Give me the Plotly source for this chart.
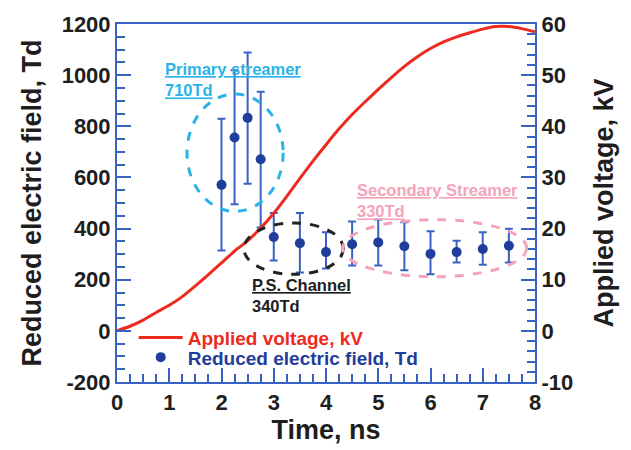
import plotly.graph_objects as go

# ---- data ----
time_ns = [0, 0.25, 0.5, 0.75, 1.0, 1.25, 1.5, 1.75, 2.0, 2.25, 2.5, 2.75, 3.0, 3.25,
           3.5, 3.75, 4.0, 4.25, 4.5, 4.75, 5.0, 5.25, 5.5, 5.75, 6.0, 6.25, 6.5,
           6.75, 7.0, 7.25, 7.5, 7.75, 8.0]
voltage_kv = [0, 0.9, 2.1, 3.6, 5.0, 6.7, 8.8, 11.0, 13.3, 15.6, 17.6, 20.1, 23.0, 26.3,
              29.8, 33.2, 36.4, 39.5, 42.3, 44.8, 47.2, 49.5, 51.7, 53.6, 55.2, 56.5, 57.5,
              58.3, 59.0, 59.5, 59.5, 59.1, 58.5]

field_t = [2.0, 2.25, 2.5, 2.75, 3.0, 3.5, 4.0, 4.5, 5.0, 5.5, 6.0, 6.5, 7.0, 7.5]
field_td = [571, 756, 833, 671, 367, 343, 308, 339, 346, 331, 301, 308, 320, 333]
err_plus = [258, 263, 256, 264, 94, 118, 78, 89, 89, 94, 89, 44, 66, 66]
err_minus = [257, 261, 258, 267, 92, 115, 64, 83, 90, 94, 80, 41, 61, 66]

x_ticks = [0, 1, 2, 3, 4, 5, 6, 7, 8]
y_left_ticks = [-200, 0, 200, 400, 600, 800, 1000, 1200]
y_left_labels = ["-200", "0", "200", "400", "600", "800", "1000", "1200"]
y_right_ticks = [-10, 0, 10, 20, 30, 40, 50, 60]
y_right_labels = ["-10", "0", "10", "20", "30", "40", "50", "60"]

# ---- style ----
FONT = "Liberation Sans, Arial, sans-serif"
AXBLUE = "#3a62c4"
PTBLUE = "#1f3d9a"
RED = "#ee2a1f"
CYAN = "#2bb3e6"
PINK = "#f4a3b8"
TXT = "#1e1e1e"

fig = go.Figure()

fig.add_trace(go.Scatter(
    x=time_ns, y=voltage_kv, yaxis="y2", mode="lines",
    line=dict(color=RED, width=3, shape="spline", smoothing=0.6),
    name="Applied voltage, kV", legend="legend",
))

fig.add_trace(go.Scatter(
    x=field_t, y=field_td, mode="markers",
    marker=dict(color=PTBLUE, size=10),
    error_y=dict(type="data", symmetric=False, array=err_plus, arrayminus=err_minus,
                 color=AXBLUE, thickness=2, width=4),
    name="Reduced electric field, Td", legend="legend2",
))

# ellipses
fig.add_shape(type="circle", xref="x", yref="y", x0=1.34, x1=3.18, y0=467, y1=926,
              line=dict(color=CYAN, width=3, dash="dash"))
fig.add_shape(type="circle", xref="x", yref="y", x0=2.43, x1=4.33, y0=221, y1=422,
              line=dict(color="#222222", width=3, dash="dash"))
fig.add_shape(type="circle", xref="x", yref="y", x0=4.32, x1=7.84, y0=212, y1=435,
              line=dict(color=PINK, width=3, dash="dash"))

def note(text, x, y, color):
    fig.add_annotation(text=text, x=x, y=y, xref="x", yref="y", xanchor="left",
                       yanchor="middle", align="left", showarrow=False,
                       font=dict(family=FONT, size=16.5, color=color, weight="bold"))

note("<u>Primary streamer</u><br><u>710Td</u>", 0.88, 982, CYAN)
note("<u>P.S. Channel</u><br>340Td", 2.55, 140, TXT)
note("<u>Secondary Streamer</u><br><u>330Td</u>", 4.55, 508, PINK)

tickfont = dict(family=FONT, size=22, color=TXT, weight="bold")
titlefont = dict(family=FONT, size=27, color=TXT, weight="bold")

common = dict(showgrid=False, zeroline=False, showline=True, linecolor=AXBLUE, linewidth=2,
              ticks="inside", tickcolor=AXBLUE, tickwidth=2, ticklen=14, tickfont=tickfont)

fig.update_layout(
    width=631, height=450,
    margin=dict(l=117, r=96, t=20, b=64),
    paper_bgcolor="white", plot_bgcolor="white",
    xaxis=dict(range=[0, 8], tickvals=x_ticks, mirror=True,
               minor=dict(dtick=0.25, ticks="inside", ticklen=8, tickcolor=AXBLUE, tickwidth=2),
               title=dict(text="Time, ns", font=titlefont, standoff=4), **common),
    yaxis=dict(range=[-200, 1200], tickvals=y_left_ticks, ticktext=y_left_labels,
               minor=dict(dtick=50, ticks="inside", ticklen=8, tickcolor=AXBLUE, tickwidth=2),
               title=dict(text="Reduced electric field, Td", font=titlefont, standoff=12), **common),
    yaxis2=dict(range=[-10, 60], tickvals=y_right_ticks, ticktext=y_right_labels,
                overlaying="y", side="right",
                minor=dict(dtick=2, ticks="inside", ticklen=8, tickcolor=AXBLUE, tickwidth=2),
                title=dict(text="Applied voltage, kV", font=titlefont, standoff=22), **common),
    legend=dict(x=0.04, y=0.124, xanchor="left", yanchor="middle", bgcolor="rgba(0,0,0,0)",
                itemwidth=44,
                font=dict(family=FONT, size=19, color=RED, weight="bold")),
    legend2=dict(x=0.04, y=0.069, xanchor="left", yanchor="middle", bgcolor="rgba(0,0,0,0)",
                 itemwidth=44,
                 font=dict(family=FONT, size=19, color=PTBLUE, weight="bold")),
    showlegend=True,
)

fig.write_html("out.html")
